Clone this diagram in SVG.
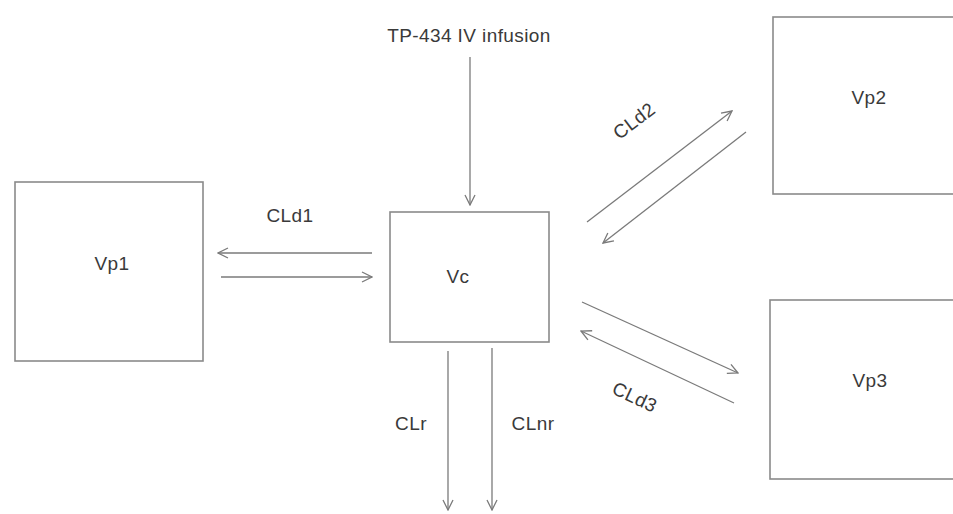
<svg xmlns="http://www.w3.org/2000/svg" width="953" height="514" viewBox="0 0 953 514">
<defs>
<style>
.box{fill:#fff;stroke:#8a8a8a;stroke-width:1.6}
.lbl{font-family:"Liberation Sans",Arial,sans-serif;font-size:19px;letter-spacing:0.4px;fill:#3a3a3a;text-anchor:middle}
.ln{stroke:#7a7a7a;stroke-width:1.3;fill:none}
</style>
<marker id="ah" viewBox="0 0 12 12" refX="11" refY="6" markerWidth="12" markerHeight="12" markerUnits="userSpaceOnUse" orient="auto">
<path d="M1,1 L11,6 L1,11" fill="none" stroke="#7a7a7a" stroke-width="1.3"/>
</marker>
</defs>
<rect width="953" height="514" fill="#fff"/>
<g id="vp1"><rect class="box" x="15" y="182" width="188" height="179"/><text class="lbl" x="112" y="270">Vp1</text></g>
<g id="vc"><rect class="box" x="390" y="212" width="159" height="130"/><text class="lbl" x="458" y="283">Vc</text></g>
<g id="vp2"><rect class="box" x="773" y="17" width="200" height="177"/><text class="lbl" x="869" y="104">Vp2</text></g>
<g id="vp3"><rect class="box" x="770" y="300" width="200" height="179"/><text class="lbl" x="870" y="387">Vp3</text></g>
<g id="dose"><text class="lbl" x="469" y="42">TP-434 IV infusion</text></g>
<g id="connectors">
<line class="ln" x1="470" y1="57" x2="470" y2="205" marker-end="url(#ah)"/>
<line class="ln" x1="372" y1="253" x2="218" y2="253" marker-end="url(#ah)"/>
<line class="ln" x1="221" y1="277" x2="372" y2="277" marker-end="url(#ah)"/>
<line class="ln" x1="587" y1="222" x2="732" y2="111" marker-end="url(#ah)"/>
<line class="ln" x1="746" y1="132" x2="603" y2="243" marker-end="url(#ah)"/>
<line class="ln" x1="582" y1="302" x2="738" y2="373" marker-end="url(#ah)"/>
<line class="ln" x1="734" y1="403" x2="581" y2="331" marker-end="url(#ah)"/>
<line class="ln" x1="448" y1="351" x2="448" y2="510" marker-end="url(#ah)"/>
<line class="ln" x1="492" y1="348" x2="492" y2="510" marker-end="url(#ah)"/>
</g>
<g id="labels">
<text class="lbl" x="290" y="222">CLd1</text>
<text class="lbl" transform="translate(638,126) rotate(-37)">CLd2</text>
<text class="lbl" transform="translate(632,403) rotate(25)">CLd3</text>
<text class="lbl" x="411" y="430">CLr</text>
<text class="lbl" x="533" y="430">CLnr</text>
</g>
</svg>
